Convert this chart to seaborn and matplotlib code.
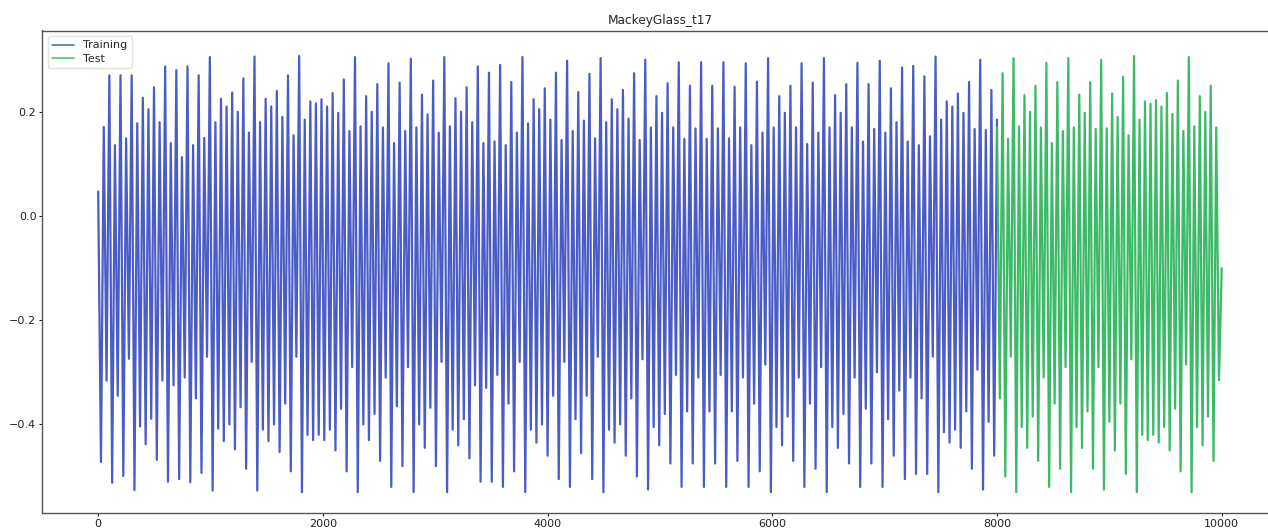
import numpy as np
import pandas as pd
import matplotlib
matplotlib.use("Agg")
import matplotlib.pyplot as plt
import seaborn as sns

# Successive turning points (peaks / troughs) of the series
train_extrema = [
    0.047,
    -0.472, 0.171, -0.316, 0.27, -0.512, 0.136, -0.345, 0.27, -0.499, 0.149, -0.274, 0.27,
    -0.526, 0.178, -0.404, 0.227, -0.438, 0.205, -0.389, 0.247, -0.468, 0.18, -0.316, 0.287,
    -0.51, 0.14, -0.325, 0.28, -0.505, 0.113, -0.31, 0.287, -0.511, 0.136, -0.35, 0.27,
    -0.493, 0.15, -0.27, 0.305, -0.527, 0.18, -0.408, 0.225, -0.432, 0.21, -0.40, 0.237,
    -0.448, 0.2, -0.367, 0.264, -0.485, 0.16, -0.28, 0.306, -0.527, 0.18, -0.41, 0.225,
    -0.432, 0.21, -0.40, 0.24, -0.453, 0.19, -0.36, 0.27,
    -0.49, 0.155, -0.27, 0.307, -0.53, 0.185, -0.42, 0.22, -0.43, 0.216, -0.42, 0.224,
    -0.43, 0.21, -0.41, 0.236, -0.45, 0.198, -0.37, 0.262, -0.49, 0.163, -0.29, 0.305,
    -0.53, 0.172, -0.40, 0.23, -0.43, 0.2, -0.38, 0.253, -0.47, 0.17, -0.31, 0.293,
    -0.52, 0.14, -0.365, 0.256, -0.48, 0.163, -0.29, 0.302, -0.53, 0.17, -0.40, 0.233,
    -0.445, 0.195, -0.368, 0.26, -0.48, 0.16, -0.28, 0.305, -0.53, 0.172, -0.41, 0.226,
    -0.44, 0.2, -0.39, 0.247, -0.465, 0.18, -0.325, 0.287, -0.51, 0.14,
    -0.33, 0.275, -0.51, 0.143, -0.305, 0.29, -0.52, 0.136, -0.36, 0.257, -0.49, 0.16,
    -0.28, 0.305, -0.53, 0.178, -0.41, 0.224, -0.435, 0.205, -0.40, 0.245, -0.46, 0.185,
    -0.345, 0.275, -0.505, 0.146, -0.28, 0.298, -0.52, 0.163, -0.39, 0.238, -0.455, 0.183,
    -0.345, 0.273, -0.505, 0.149, -0.27, 0.303, -0.53, 0.18, -0.41, 0.224, -0.435, 0.205,
    -0.40, 0.242, -0.46, 0.187, -0.35, 0.274, -0.5, 0.146, -0.275, 0.30, -0.525, 0.17,
    -0.405, 0.23, -0.44, 0.198, -0.38, 0.255, -0.475, 0.17, -0.305, 0.295, -0.52,
    0.148, -0.375, 0.25, -0.475, 0.168, -0.31, 0.295, -0.52, 0.148, -0.375, 0.25, -0.475,
    0.168, -0.305, 0.295, -0.52, 0.149, -0.375, 0.248, -0.47, 0.17, -0.31, 0.293, -0.52,
    0.136, -0.36, 0.258, -0.49, 0.16, -0.285, 0.303, -0.53, 0.17, -0.405, 0.23, -0.44,
    0.198, -0.385, 0.25, -0.47, 0.17, -0.31, 0.293, -0.52, 0.138, -0.36, 0.256, -0.485,
    0.16, -0.29, 0.303, -0.53, 0.17, -0.405, 0.232, -0.445, 0.198, -0.38, 0.253, -0.475,
    0.17, -0.31, 0.294, -0.52, 0.143, -0.37, 0.253, -0.475, 0.167,
    -0.30, 0.298, -0.52, 0.16, -0.39, 0.245, -0.46, 0.18, -0.335, 0.285, -0.505, 0.143,
    -0.31, 0.288, -0.495, 0.136, -0.35, 0.268, -0.495, 0.153, -0.27, 0.306, -0.53, 0.185,
    -0.415, 0.22, -0.435, 0.21, -0.41, 0.235, -0.445, 0.198, -0.375, 0.257, -0.485, 0.167,
    -0.295, 0.30, -0.525, 0.165, -0.395, 0.242, -0.46, 0.185,
]

test_extrema = [
    0.17, -0.35, 0.274, -0.5, 0.148, -0.27, 0.303, -0.53, 0.172, -0.405, 0.232, -0.445,
    0.2, -0.385, 0.25, -0.47, 0.17, -0.31, 0.294, -0.52, 0.14, -0.36, 0.257, -0.485, 0.163,
    -0.29, 0.303, -0.53, 0.17, -0.405, 0.233, -0.445, 0.198, -0.375, 0.257, -0.485, 0.167,
    -0.29, 0.30, -0.525, 0.168, -0.395, 0.235, -0.45, 0.19, -0.36, 0.267, -0.495, 0.155,
    -0.275, 0.307, -0.53, 0.185, -0.42, 0.22, -0.43, 0.215, -0.42, 0.222, -0.435, 0.21,
    -0.405, 0.236, -0.45, 0.196, -0.37, 0.26, -0.49, 0.163, -0.285, 0.305, -0.53, 0.172,
    -0.405, 0.23, -0.44, 0.2, -0.385, 0.25, -0.47, 0.17, -0.315, -0.1,
]

train_span = (0, 7999)
test_span = (8000, 9999)

title = "MackeyGlass_t17"
series_labels = ["Training", "Test"]
x_ticks = [0, 2000, 4000, 6000, 8000, 10000]
y_ticks = [-0.4, -0.2, 0.0, 0.2]

sns.set_style("ticks")
plt.rcParams["font.family"] = ["DejaVu Sans"]

# time stamps of the turning points spread over each segment
train_t = np.linspace(train_span[0], train_span[1], len(train_extrema))
test_t = np.linspace(test_span[0], test_span[1], len(test_extrema))

df = pd.concat([
    pd.DataFrame({"t": train_t, "value": train_extrema, "set": series_labels[0]}),
    pd.DataFrame({"t": test_t, "value": test_extrema, "set": series_labels[1]}),
], ignore_index=True)

fig = plt.figure(figsize=(12.68, 5.30), dpi=100)
ax = fig.add_axes([42 / 1268, 17 / 530, 1236 / 1268, 482.5 / 530])

sns.lineplot(data=df, x="t", y="value", hue="set", sort=False, estimator=None,
             palette=["#4a5cc6", "#3dba68"], linewidth=1.6, ax=ax)

ax.set_xlim(-500, 10500)
ax.set_ylim(-0.570, 0.356)
ax.set_xticks(x_ticks)
ax.set_yticks(y_ticks)
ax.set_xticklabels([str(v) for v in x_ticks])
ax.set_yticklabels([f"{v:.1f}".replace("-", "\u2212") for v in y_ticks])
ax.tick_params(labelsize=8, colors="#222222", length=2.5, width=0.8, pad=1.5)
ax.set_xlabel("")
ax.set_ylabel("")
ax.set_title(title, fontsize=8.7, pad=5)
for s in ax.spines.values():
    s.set_color("#555555")
    s.set_linewidth(1.0)

leg = ax.legend(loc="upper left", fontsize=8, frameon=True, borderaxespad=0.5,
                handlelength=2.0, labelspacing=0.3)
leg.get_frame().set_edgecolor("#dddddd")
for line in leg.get_lines():
    line.set_linewidth(1.1)

fig.savefig("out.png", dpi=100)
